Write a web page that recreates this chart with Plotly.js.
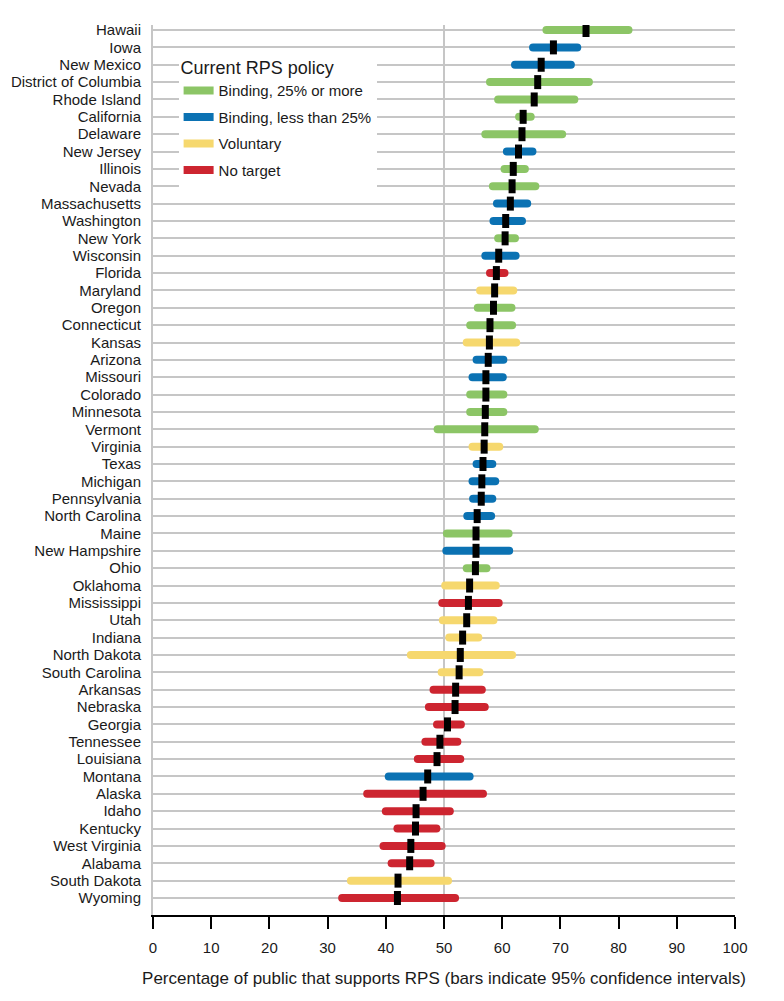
<!DOCTYPE html>
<html>
<head>
<meta charset="utf-8">
<script src="https://cdn.plot.ly/plotly-3.0.1.min.js"></script>
<style>
  html, body { margin: 0; padding: 0; background: #fff; }
  #chart { width: 784px; height: 1001px; }
  path.js-line { stroke-linecap: round !important; }
  .legendlines path { stroke-linecap: butt !important; }
</style>
</head>
<body>
<div id="chart"></div>
<script>
// ---- Data ----
const states = ["Hawaii","Iowa","New Mexico","District of Columbia","Rhode Island","California","Delaware","New Jersey","Illinois","Nevada","Massachusetts","Washington","New York","Wisconsin","Florida","Maryland","Oregon","Connecticut","Kansas","Arizona","Missouri","Colorado","Minnesota","Vermont","Virginia","Texas","Michigan","Pennsylvania","North Carolina","Maine","New Hampshire","Ohio","Oklahoma","Mississippi","Utah","Indiana","North Dakota","South Carolina","Arkansas","Nebraska","Georgia","Tennessee","Louisiana","Montana","Alaska","Idaho","Kentucky","West Virginia","Alabama","South Dakota","Wyoming"];

// policy: G = Binding 25%+, B = Binding <25%, Y = Voluntary, R = No target
const policy = ["G","B","B","G","G","G","G","B","G","G","B","B","G","B","R","Y","G","G","Y","B","B","G","G","G","Y","B","B","B","B","G","B","G","Y","R","Y","Y","Y","Y","R","R","R","R","R","B","R","R","R","R","R","Y","R"];

const support = [74.4,68.8,66.7,66.1,65.5,63.6,63.4,62.8,61.9,61.7,61.4,60.6,60.5,59.4,59.0,58.7,58.5,57.9,57.8,57.6,57.2,57.2,57.1,57.0,56.9,56.7,56.5,56.4,55.7,55.5,55.5,55.4,54.4,54.2,53.9,53.2,52.8,52.6,52.0,51.9,50.6,49.3,48.8,47.2,46.4,45.2,45.1,44.3,44.1,42.1,42.0];

const ciLow = [67.6,65.3,62.2,57.9,59.3,62.9,57.1,60.8,60.4,58.4,59.1,58.5,59.3,57.1,57.9,56.2,55.8,54.5,53.9,55.6,54.9,54.5,54.5,48.9,54.9,55.6,54.9,55.0,54.0,50.5,50.4,53.9,50.2,49.7,49.8,50.9,44.3,49.6,48.2,47.4,48.8,46.8,45.5,40.5,36.8,40.0,42.0,39.6,41.0,34.0,32.5];

const ciHigh = [81.7,72.9,71.8,74.9,72.4,64.9,70.3,65.2,63.9,65.7,64.3,63.4,62.2,62.3,60.4,61.9,61.6,61.7,62.4,60.2,60.1,60.2,60.2,65.6,59.5,58.3,58.8,58.3,58.1,61.1,61.2,57.3,58.9,59.4,58.5,55.9,61.7,56.1,56.5,57.0,52.9,52.3,52.8,54.4,56.7,51.0,48.7,49.6,47.7,50.7,51.9];

const policyCodes  = ["G","B","Y","R"];
const policyNames  = ["Binding, 25% or more","Binding, less than 25%","Voluntary","No target"];
const policyColors = ["#8cc566","#0b72b3","#f6d86e","#cd2530"];

const xTicks = [0,10,20,30,40,50,60,70,80,90,100];
const xTitle = "Percentage of public that supports RPS (bars indicate 95% confidence intervals)";
const legendTitle = "Current RPS policy";

// ---- Build traces ----
const FONT = "Liberation Sans, Arial, Helvetica, sans-serif";
const traces = [];
policyCodes.forEach((code, k) => {
  const xs = [], ys = [];
  states.forEach((s, i) => {
    if (policy[i] === code) {
      xs.push(ciLow[i], ciHigh[i], null);
      ys.push(s, s, null);
    }
  });
  traces.push({
    type: "scatter", mode: "lines",
    x: xs, y: ys,
    name: policyNames[k],
    legendgroup: code,
    line: { color: policyColors[k], width: 8 },
    connectgaps: false,
    hoverinfo: "skip"
  });
});

traces.push({
  type: "scatter", mode: "markers",
  x: support, y: states,
  showlegend: false,
  marker: { symbol: "line-ns", size: 10, color: "#000", line: { color: "#000", width: 7 } },
  hovertemplate: "%{y}: %{x}%<extra></extra>"
});

const layout = {
  width: 784, height: 1001,
  margin: { l: 153, r: 49, t: 25, b: 86 },
  paper_bgcolor: "#fff", plot_bgcolor: "#fff",
  font: { family: FONT, size: 15, color: "#1a1a1a" },
  showlegend: true,
  legend: {
    x: 0.044, xanchor: "left", y: 0.971, yanchor: "top",
    bgcolor: "#fff", borderwidth: 0,
    title: { text: legendTitle, font: { size: 18, family: FONT, color: "#1a1a1a" } },
    font: { size: 15, family: FONT, color: "#1a1a1a" },
    traceorder: "grouped", tracegroupgap: 4
  },
  xaxis: {
    range: [0, 100], tickvals: xTicks, ticktext: xTicks.map(String),
    showgrid: false, zeroline: false,
    showline: true, linecolor: "#000", linewidth: 2,
    ticks: "outside", ticklen: 12, tickwidth: 2, tickcolor: "#000",
    tickfont: { size: 15, family: FONT, color: "#1a1a1a" },
    ticklabelstandoff: 6,
    title: { text: xTitle, font: { size: 17, family: FONT, color: "#1a1a1a" }, standoff: 17 },
    fixedrange: true
  },
  yaxis: {
    type: "category", categoryorder: "array", categoryarray: states,
    tickmode: "array", tickvals: states, ticktext: states,
    range: [50.98, -0.29], autorange: false,
    showgrid: true, gridcolor: "#c6c6c6", gridwidth: 2,
    zeroline: false,
    showline: true, linecolor: "#c6c6c6", linewidth: 2,
    ticks: "", ticklabelstandoff: 7,
    tickfont: { size: 15, family: FONT, color: "#1a1a1a" },
    fixedrange: true
  },
  shapes: [{
    type: "line", xref: "x", yref: "paper", x0: 50, x1: 50, y0: 0, y1: 1,
    line: { color: "#c6c6c6", width: 2 }, layer: "below"
  }]
};

Plotly.newPlot("chart", traces, layout, { displayModeBar: false, staticPlot: true });
</script>
</body>
</html>
